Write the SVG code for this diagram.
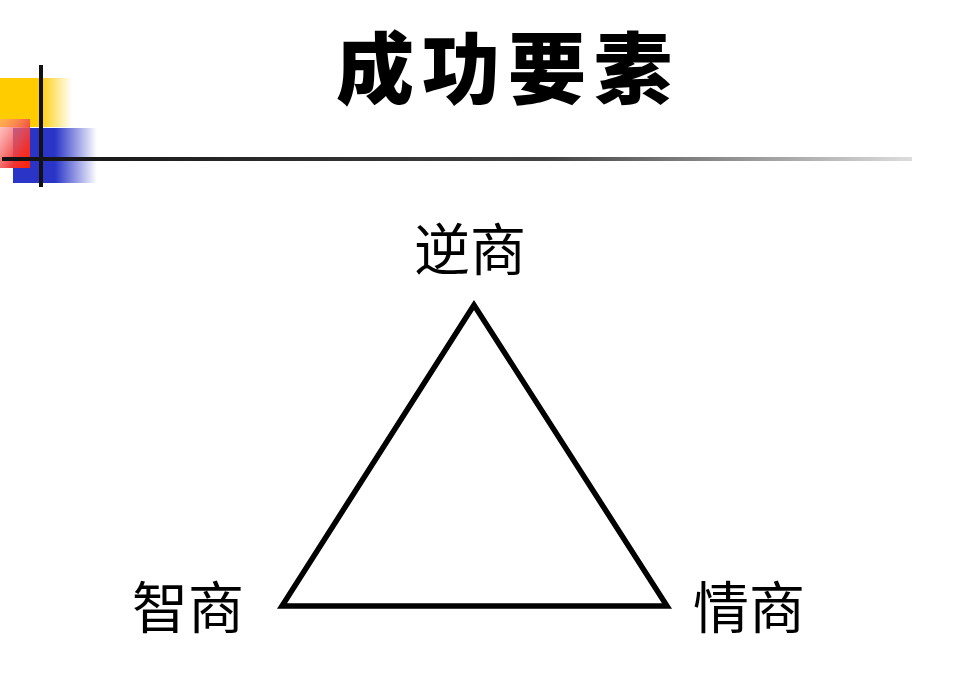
<svg xmlns="http://www.w3.org/2000/svg" width="967" height="700" viewBox="0 0 967 700">
<defs>
<linearGradient id="gy" x1="0" y1="0" x2="1" y2="0"><stop offset="0" stop-color="#ffcc00"/><stop offset="0.55" stop-color="#ffcc00"/><stop offset="1" stop-color="#ffcc00" stop-opacity="0"/></linearGradient>
<linearGradient id="gr" x1="0" y1="0" x2="1" y2="1"><stop offset="0" stop-color="#ff9999" stop-opacity="0.5"/><stop offset="0.7" stop-color="#ee3333"/><stop offset="1" stop-color="#ff2200"/></linearGradient>
<linearGradient id="gb" x1="0" y1="0" x2="1" y2="0"><stop offset="0" stop-color="#2a35c8"/><stop offset="0.5" stop-color="#2a35c8"/><stop offset="1" stop-color="#2a35c8" stop-opacity="0"/></linearGradient>
<linearGradient id="gl" x1="0" y1="0" x2="1" y2="0"><stop offset="0" stop-color="#111"/><stop offset="0.6" stop-color="#444"/><stop offset="1" stop-color="#ddd"/></linearGradient>
</defs>
<style>
.lbl{font-family:"Noto Sans CJK SC","Noto Sans CJK JP",sans-serif;font-size:56px;fill:#000;text-anchor:middle}
.title{font-family:"Noto Sans CJK SC","Noto Sans CJK JP",sans-serif;font-size:78px;font-weight:900;fill:#000;text-anchor:middle;letter-spacing:8px}
</style>
<rect width="967" height="700" fill="#fff"/>
<g id="decor">
<rect x="0" y="78" width="72" height="49" fill="url(#gy)"/>
<rect x="13" y="128" width="84" height="55" fill="url(#gb)"/>
<rect x="0" y="119" width="30" height="49" fill="url(#gr)"/>
<rect x="39" y="65" width="4" height="122" fill="#111"/>
<rect x="2" y="157" width="910" height="4" fill="url(#gl)"/>
</g>
<g id="title"><text class="title" x="508" y="98">成功要素</text></g>
<g id="connectors">
<polygon points="474,305 282,606 667,606" fill="none" stroke="#000" stroke-width="5.5" stroke-linejoin="miter"/>
</g>
<g id="node-top"><text class="lbl" x="470" y="270">逆商</text></g>
<g id="node-left"><text class="lbl" x="188" y="628">智商</text></g>
<g id="node-right"><text class="lbl" x="749" y="628">情商</text></g>
</svg>
